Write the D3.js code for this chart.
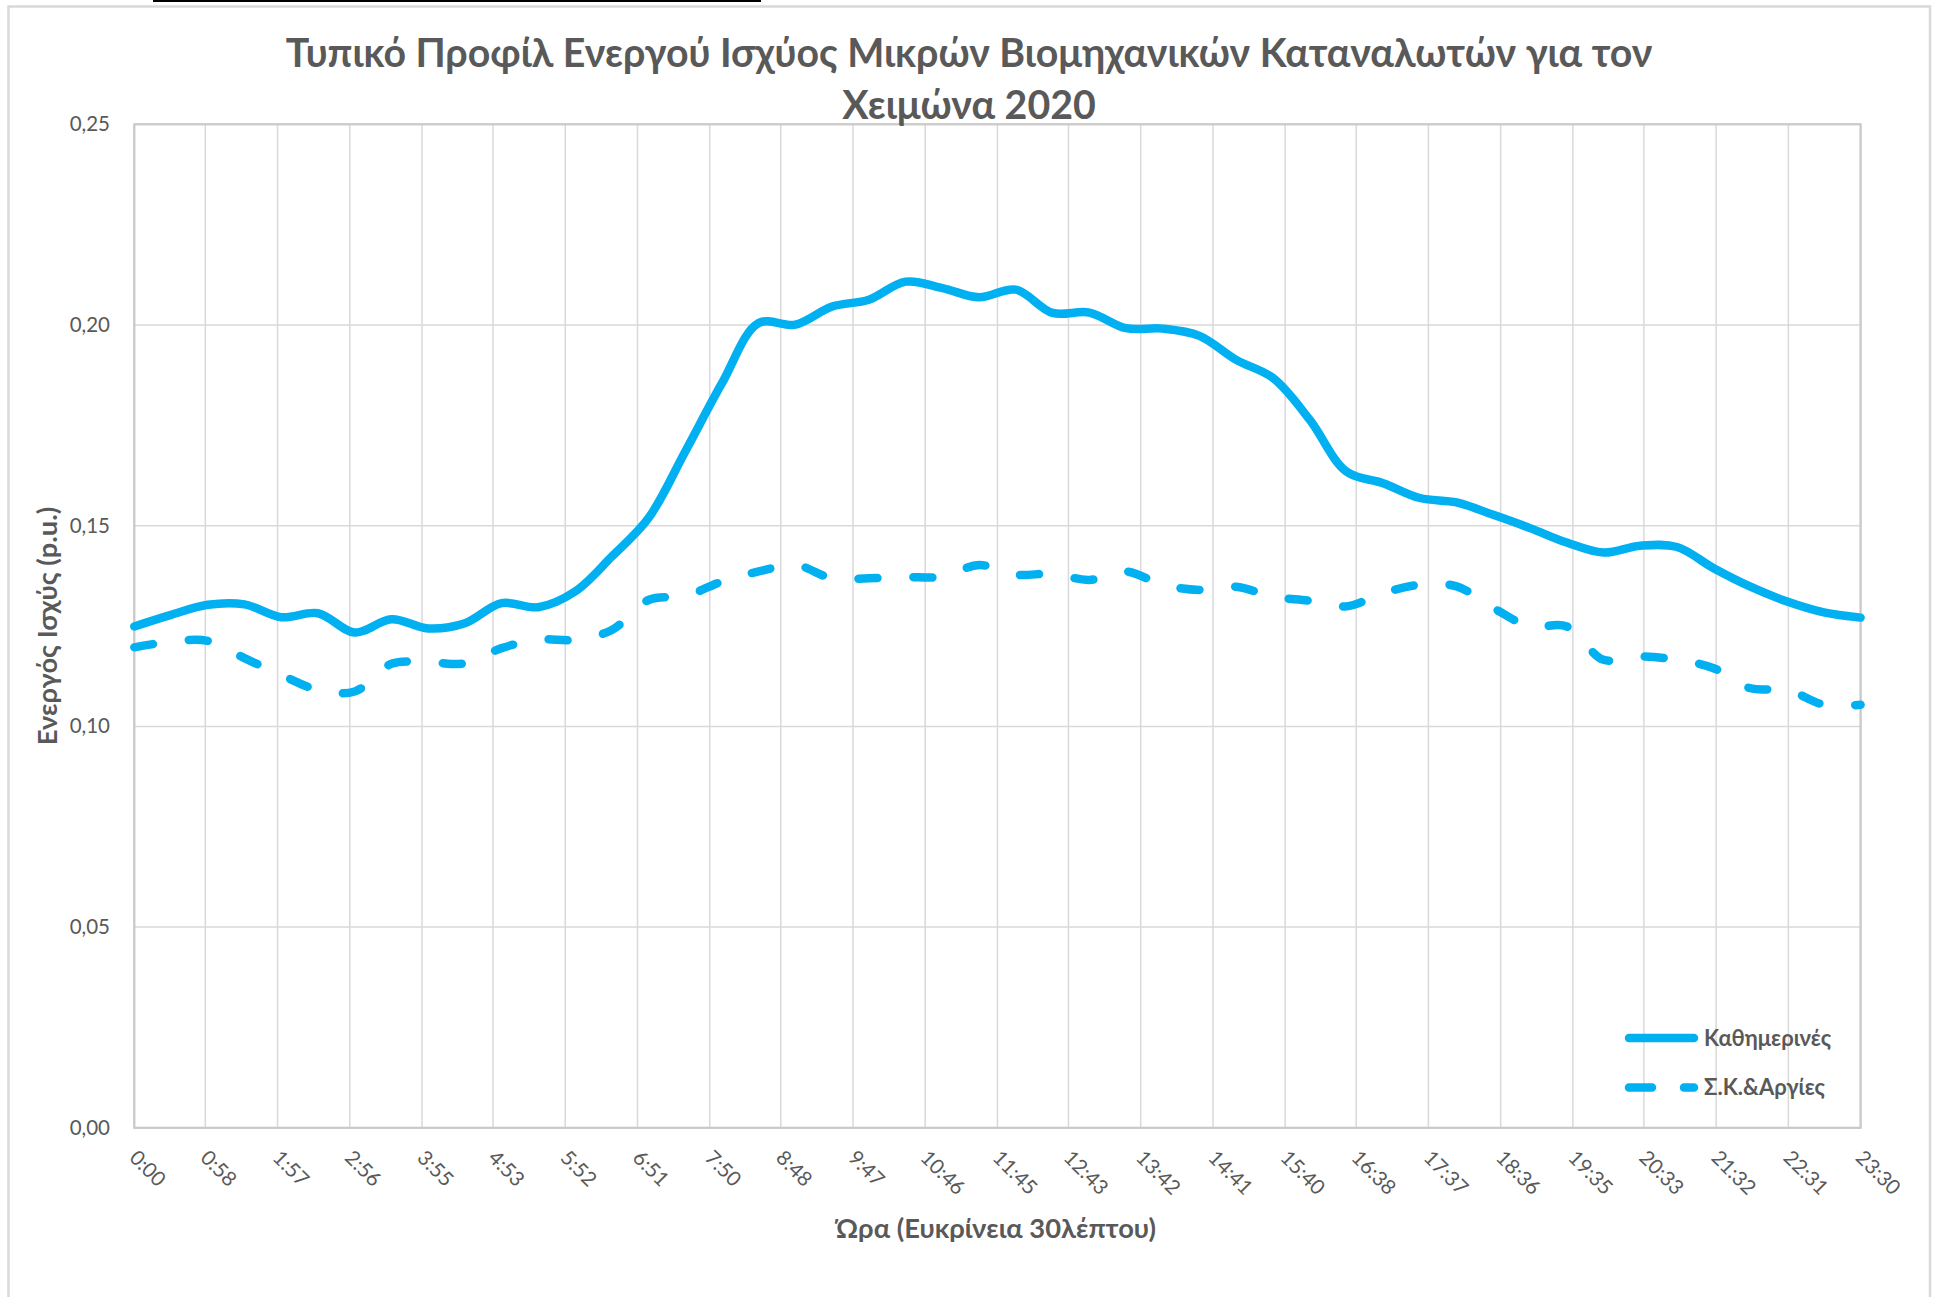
<!DOCTYPE html>
<html>
<head>
<meta charset="utf-8">
<script src="https://cdn.jsdelivr.net/npm/d3@7"></script>
<style>
    body { margin: 0; background: #fff; }
    text { font-family: Lato, "Noto Sans", sans-serif; fill: #595959; }
</style>
</head>
<body>
<script>
const width = 1941, height = 1297;

// half-hour slots
const times = ["0:00","0:30","1:00","1:30","2:00","2:30","3:00","3:30","4:00","4:30","5:00","5:30",
    "6:00","6:30","7:00","7:30","8:00","8:30","9:00","9:30","10:00","10:30","11:00","11:30",
    "12:00","12:30","13:00","13:30","14:00","14:30","15:00","15:30","16:00","16:30","17:00","17:30",
    "18:00","18:30","19:00","19:30","20:00","20:30","21:00","21:30","22:00","22:30","23:00","23:30"];

const weekdays = [0.1249,0.1278,0.1303,0.1304,0.1272,0.1282,0.1234,0.1267,0.1244,0.1257,0.1307,0.1297,
    0.1336,0.1423,0.1519,0.1685,0.1855,0.2005,0.2001,0.2046,0.2063,0.2108,0.2092,0.2069,
    0.2088,0.2030,0.2031,0.1992,0.1991,0.1973,0.1913,0.1868,0.1764,0.1635,0.1606,0.1569,
    0.1558,0.1527,0.1494,0.1458,0.1433,0.1450,0.1447,0.1394,0.1348,0.1311,0.1284,0.1271];

const weekends = [0.1197,0.1211,0.1213,0.1170,0.1128,0.1091,0.1087,0.1156,0.1160,0.1157,0.1195,0.1216,
    0.1216,0.1240,0.1315,0.1325,0.1361,0.1386,0.1402,0.1369,0.1369,0.1372,0.1373,0.1402,
    0.1378,0.1380,0.1365,0.1386,0.1353,0.1340,0.1348,0.1323,0.1313,0.1299,0.1332,0.1353,
    0.1349,0.1295,0.1249,0.1249,0.1166,0.1174,0.1166,0.1145,0.1095,0.1091,0.1054,0.1054];

const xTickLabels = ["0:00","0:58","1:57","2:56","3:55","4:53","5:52","6:51","7:50","8:48","9:47","10:46",
    "11:45","12:43","13:42","14:41","15:40","16:38","17:37","18:36","19:35","20:33","21:32","22:31","23:30"];
const yTicks = [0, 0.05, 0.10, 0.15, 0.20, 0.25];

const seriesNames = ["Καθημερινές", "Σ.Κ.&Αργίες"];
const titleLines = ["Τυπικό Προφίλ Ενεργού Ισχύος Μικρών Βιομηχανικών Καταναλωτών για τον", "Χειμώνα 2020"];
const xTitle = "Ώρα (Ευκρίνεια 30λέπτου)";
const yTitle = "Ενεργός Ισχύς (p.u.)";

const blue = "#00B0F0";
const dash = "19,36";

const toMin = t => { const p = t.split(":"); return +p[0] * 60 + +p[1]; };
const fmt = d3.format(".2f");

const svg = d3.select("body").append("svg")
    .attr("width", width)
    .attr("height", height);

const plot = {left: 134.3, right: 1860.6, top: 124.3, bottom: 1127.8};

const x = d3.scaleLinear().domain([0, toMin("23:30")]).range([plot.left, plot.right]);
const y = d3.scaleLinear().domain([0, 0.25]).range([plot.bottom, plot.top]);

// outer chart border + stray line above
svg.append("rect")
    .attr("x", 8.5).attr("y", 6.5)
    .attr("width", 1921.5).attr("height", 1310)
    .attr("fill", "none").attr("stroke", "#d9d9d9").attr("stroke-width", 2.5);
svg.append("line")
    .attr("x1", 153).attr("x2", 761).attr("y1", 1).attr("y2", 1)
    .attr("stroke", "#000").attr("stroke-width", 2);

// gridlines
svg.append("g")
    .selectAll("line").data(xTickLabels).join("line")
    .attr("x1", d => x(toMin(d))).attr("x2", d => x(toMin(d)))
    .attr("y1", plot.top).attr("y2", plot.bottom)
    .attr("stroke", "#d9d9d9").attr("stroke-width", 1.5);
svg.append("g")
    .selectAll("line").data(yTicks).join("line")
    .attr("x1", plot.left).attr("x2", plot.right)
    .attr("y1", d => y(d)).attr("y2", d => y(d))
    .attr("stroke", "#d9d9d9").attr("stroke-width", 1.5);
svg.append("rect")
    .attr("x", plot.left).attr("y", plot.top)
    .attr("width", plot.right - plot.left).attr("height", plot.bottom - plot.top)
    .attr("fill", "none").attr("stroke", "#c9c9c9").attr("stroke-width", 2.2);

// y tick labels
svg.append("g")
    .selectAll("text").data(yTicks).join("text")
    .attr("x", 110).attr("y", d => y(d) + 7)
    .attr("text-anchor", "end")
    .style("font-size", "20.5px")
    .text(d => fmt(d).replace(".", ","));

// x tick labels, rotated
svg.append("g")
    .selectAll("text").data(xTickLabels).join("text")
    .attr("transform", d => `translate(${x(toMin(d)) - 6},1159) rotate(45)`)
    .style("font-size", "20.5px")
    .text(d => d);

// lines
const line = d3.line()
    .x((d, i) => x(toMin(times[i])))
    .y(d => y(d))
    .curve(d3.curveCatmullRom.alpha(0.5));

svg.append("path").datum(weekends)
    .attr("d", line)
    .attr("fill", "none").attr("stroke", blue).attr("stroke-width", 8.5)
    .attr("stroke-linecap", "round").attr("stroke-linejoin", "round")
    .attr("stroke-dasharray", dash);
svg.append("path").datum(weekdays)
    .attr("d", line)
    .attr("fill", "none").attr("stroke", blue).attr("stroke-width", 8.5)
    .attr("stroke-linecap", "round").attr("stroke-linejoin", "round");

// legend
const legend = svg.append("g").attr("transform", "translate(1629,1038)");
seriesNames.forEach(function (name, i) {
    legend.append("line")
        .attr("x1", 0).attr("x2", 65)
        .attr("y1", i * 49.5).attr("y2", i * 49.5)
        .attr("stroke", blue).attr("stroke-width", 8.5)
        .attr("stroke-linecap", "round")
        .attr("stroke-dasharray", i === 1 ? "23,32" : null);
    legend.append("text")
        .attr("x", 75).attr("y", i * 49.5 + 7.5)
        .style("font-size", "22px").style("font-weight", "bold")
        .text(name);
});

// titles
svg.append("text")
    .attr("text-anchor", "middle")
    .style("font-size", "39.3px").style("font-weight", "bold")
    .selectAll("tspan").data(titleLines).join("tspan")
    .attr("x", 969)
    .attr("y", (d, i) => 67 + i * 51.7)
    .text(d => d);

svg.append("text")
    .attr("x", 996).attr("y", 1238)
    .attr("text-anchor", "middle")
    .style("font-size", "27.3px").style("font-weight", "bold")
    .text(xTitle);

svg.append("text")
    .attr("transform", "translate(56.5,626) rotate(-90)")
    .attr("text-anchor", "middle")
    .style("font-size", "27.3px").style("font-weight", "bold")
    .text(yTitle);
</script>
</body>
</html>
